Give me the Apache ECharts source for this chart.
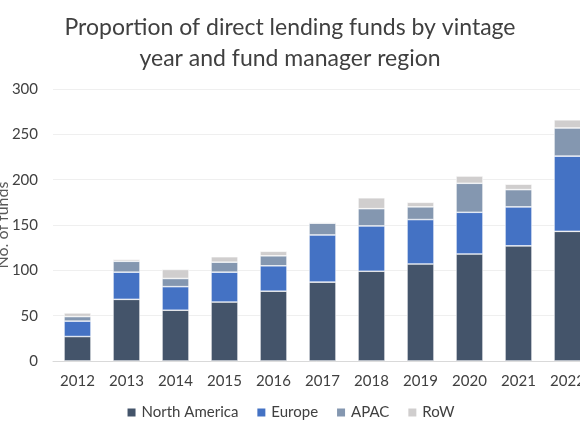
<!DOCTYPE html>
<html>
<head>
<meta charset="utf-8">
<script src="https://cdn.jsdelivr.net/npm/echarts@6/dist/echarts.min.js"></script>
<style>
html,body{margin:0;padding:0;background:#fff;}
#chart{width:580px;height:435px;}
</style>
</head>
<body>
<div id="chart"></div>
<script>
var years = ['2012','2013','2014','2015','2016','2017','2018','2019','2020','2021','2022'];
var northAmerica = [27, 68, 56, 65, 77, 87, 99, 107, 118, 127, 143];
var europe       = [17, 30, 26, 33, 28, 52, 50, 49, 46, 43, 83];
var apac         = [5, 12, 9, 11, 11, 13, 19, 14, 32, 19, 31];
var row          = [4, 2, 10, 6, 5, 1, 12, 5, 8, 6, 9];
var yTicks = [0, 50, 100, 150, 200, 250, 300];

var FONT = 'Lato';
var chart = echarts.init(document.getElementById('chart'));
function s(name, data, color) {
  return {
    name: name, type: 'bar', stack: 'total', data: data,
    barCategoryGap: '45%',
    itemStyle: { color: color, borderColor: '#ffffff', borderWidth: 0.6 }
  };
}
chart.setOption({
  animation: false,
  backgroundColor: '#ffffff',
  title: {
    text: 'Proportion of direct lending funds by vintage\nyear and fund manager region',
    left: 'center', top: 7,
    textStyle: { fontFamily: FONT, fontSize: 23, fontWeight: 'normal', color: '#404040', lineHeight: 31 }
  },
  legend: {
    bottom: 10, left: 'center',
    icon: 'rect', itemWidth: 10, itemHeight: 10, itemGap: 17,
    textStyle: { fontFamily: FONT, fontSize: 15, color: '#404040' },
    data: ['North America', 'Europe', 'APAC', 'RoW']
  },
  grid: { left: 53, right: -12, top: 89, bottom: 74, containLabel: false, outerBoundsMode: 'none' },
  xAxis: {
    type: 'category', data: years,
    axisTick: { show: false },
    axisLine: { lineStyle: { color: '#d9d9d9' } },
    axisLabel: { fontFamily: FONT, fontSize: 15, color: '#404040', margin: 13 }
  },
  yAxis: {
    type: 'value', min: yTicks[0], max: yTicks[yTicks.length - 1], interval: 50,
    name: 'No. of funds', nameLocation: 'middle', nameGap: 42, nameRotate: 90,
    nameMoveOverlap: false,
    nameTextStyle: { fontFamily: FONT, fontSize: 16, color: '#595959' },
    axisLine: { show: false }, axisTick: { show: false },
    splitLine: { lineStyle: { color: '#efefef' } },
    axisLabel: { fontFamily: FONT, fontSize: 15, color: '#404040', margin: 15 }
  },
  series: [
    s('North America', northAmerica, '#44546a'),
    s('Europe', europe, '#4472c4'),
    s('APAC', apac, '#8497b0'),
    s('RoW', row, '#d0cece')
  ]
});
</script>
</body>
</html>
